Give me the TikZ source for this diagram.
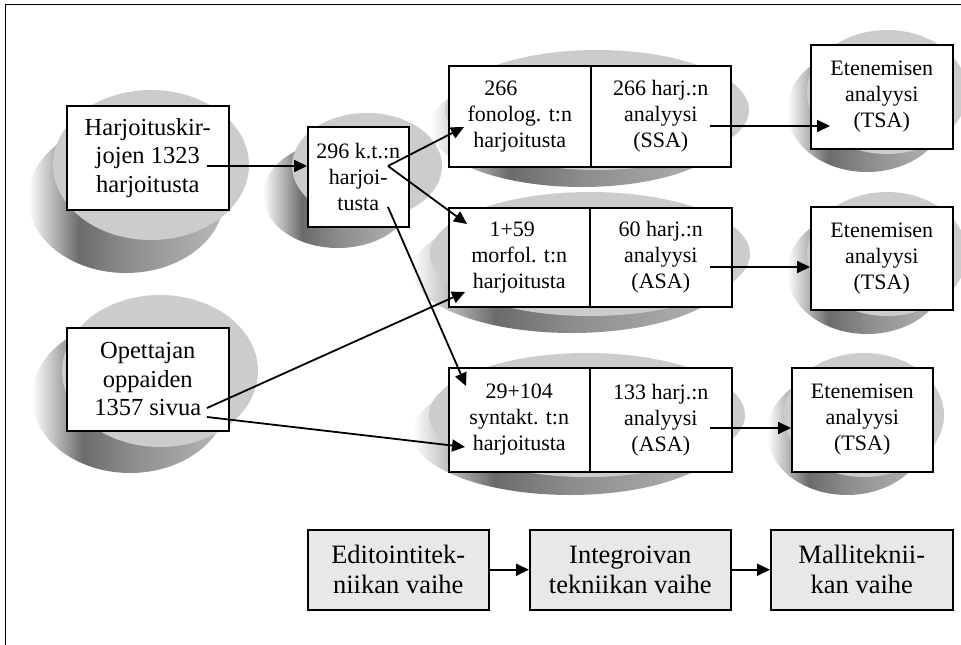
\documentclass[tikz,border=0pt]{standalone}
\usepackage{fontspec}
\setmainfont{Liberation Serif}
\usetikzlibrary{arrows.meta}
\pgfdeclarehorizontalshading{discside}{100bp}{color(0bp)=(white); color(25bp)=(white); color(29bp)=(black!18); color(38bp)=(black!58); color(50bp)=(black!45); color(75bp)=(black!28); color(100bp)=(black!28)}
\newcommand\myblob[6]{%
  \shade[shading=discside] (#1,#2) ellipse [x radius=#3, y radius=#4];
  \fill[topface] (#1+#5,#2-#6) ellipse [x radius=#3, y radius=#4];
}
\begin{document}
\begin{tikzpicture}[x=1pt,y=-1pt,
  topface/.style={fill=black!20},
  box/.style={draw, line width=1.5pt, fill=white, align=center, inner sep=0pt, anchor=north west},
  fa/.style={font=\fontsize{24.5}{28.5}\selectfont},
  fb/.style={font=\fontsize{22}{26}\selectfont},
  fc/.style={font=\fontsize{26.5}{30}\selectfont},
  phase/.style={box, fill=black!9, fc},
  arr/.style={line width=1.8pt, -{Triangle[length=13pt,width=12pt]}}]
\useasboundingbox (0,0) rectangle (961,645);
\draw[line width=1pt] (5,645) -- (5,4) -- (961,4);
% blobs
\myblob{126}{198}{98}{75}{25}{33}
\myblob{130}{397}{98}{76}{30}{26}
\myblob{338}{195}{75}{53}{29}{29}
\myblob{582}{127}{152}{60}{15}{17}
\myblob{572}{271}{160}{62}{18}{17}
\myblob{570}{433}{158}{62}{17}{18}
\myblob{867}{110}{80}{62}{20}{18}
\myblob{867}{272}{80}{62}{20}{18}
\myblob{847}{433}{80}{62}{17}{18}
% boxes
\node[box, fa, minimum width=162pt, minimum height=104pt] (hb) at (66,105) {Harjoituskir-\\jojen 1323\\harjoitusta};
\node[box, fa, minimum width=162pt, minimum height=103pt] (op) at (66,327) {Opettajan\\oppaiden\\1357 sivua};
\node[box, fb, minimum width=101pt, minimum height=100pt] (kt) at (307,126) {296 k.t.:n\\harjoi-\\tusta};
\node[box, fb, minimum width=142pt, minimum height=101pt] (phl) at (448,65) {266\hspace*{38pt}\\fonolog. t:n\\harjoitusta};
\node[box, fb, minimum width=140pt, minimum height=101pt] (phr) at (590,65) {266 harj.:n\\analyysi\\(SSA)};
\node[box, fb, minimum width=141pt, minimum height=99pt] (mol) at (448,207) {1+59\hspace*{14pt}\\morfol. t:n\\harjoitusta};
\node[box, fb, minimum width=142pt, minimum height=99pt] (mor) at (589,207) {60 harj.:n\\analyysi\\(ASA)};
\node[box, fb, minimum width=141pt, minimum height=104pt] (syl) at (448,367) {29+104\\syntakt. t:n\\harjoitusta};
\node[box, fb, minimum width=142pt, minimum height=104pt] (syr) at (589,367) {133 harj.:n\\analyysi\\(ASA)};
\node[box, fb, minimum width=142pt, minimum height=104pt] (e1) at (810,44) {Etenemisen\\analyysi\\(TSA)};
\node[box, fb, minimum width=142pt, minimum height=103pt] (e2) at (810,206) {Etenemisen\\analyysi\\(TSA)};
\node[box, fb, minimum width=141pt, minimum height=104pt] (e3) at (791,367) {Etenemisen\\analyysi\\(TSA)};
\node[phase, minimum width=181pt, minimum height=80pt] (b1) at (307,529) {Editointitek-\\niikan vaihe};
\node[phase, minimum width=201pt, minimum height=80pt] (b2) at (529,529) {Integroivan\\tekniikan vaihe};
\node[phase, minimum width=182pt, minimum height=80pt] (b3) at (770,529) {Malliteknii-\\kan vaihe};
% arrow end points
\coordinate (s1) at (207,166);
\coordinate (s2) at (388,166);
\coordinate (s3) at (388,207);
\coordinate (s4) at (207,408);
\coordinate (s5) at (207,417);
\coordinate (t2) at (464,127);
\coordinate (t3) at (467,224);
\coordinate (t4) at (466,386);
\coordinate (t5) at (465,292);
\coordinate (t6) at (465,447);
\coordinate (r1) at (710,126);
\coordinate (r2) at (710,267);
\coordinate (r3) at (710,428);
\coordinate (u1) at (830,126);
% arrows
\draw[arr] (s1) -- (kt.west |- s1);
\draw[arr] (s2) -- (t2);
\draw[arr] (s2) -- (t3);
\draw[arr] (s3) -- (t4);
\draw[arr] (s4) -- (t5);
\draw[arr] (s5) -- (t6);
\draw[arr] (r1) -- (u1);
\draw[arr] (r2) -- (e2.west |- r2);
\draw[arr] (r3) -- (e3.west |- r3);
\draw[arr] (b1) -- (b2);
\draw[arr] (b2) -- (b3);
\end{tikzpicture}
\end{document}
